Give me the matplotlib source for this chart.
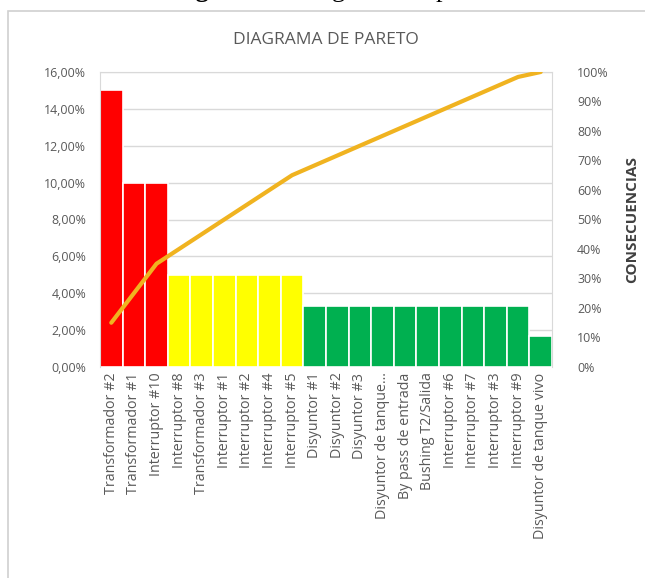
import numpy as np
import matplotlib
matplotlib.use('Agg')
import matplotlib.pyplot as plt
from matplotlib.patches import Rectangle
from matplotlib.ticker import FuncFormatter

plt.rcParams['font.family'] = ['Open Sans', 'DejaVu Sans']

# data
categorias = ['Transformador #2', 'Transformador #1', 'Interruptor #10', 'Interruptor #8',
              'Transformador #3', 'Interruptor #1', 'Interruptor #2', 'Interruptor #4',
              'Interruptor #5', 'Disyuntor #1', 'Disyuntor #2', 'Disyuntor #3',
              'Disyuntor de tanque...', 'By pass de entrada', 'Bushing T2/Salida',
              'Interruptor #6', 'Interruptor #7', 'Interruptor #3', 'Interruptor #9',
              'Disyuntor de tanque vivo']
valores = [15.0, 10.0, 10.0, 5.0, 5.0, 5.0, 5.0, 5.0, 5.0,
           3.33, 3.33, 3.33, 3.33, 3.33, 3.33, 3.33, 3.33, 3.33, 3.33, 1.67]
colores = ['#FF0000'] * 3 + ['#FFFF00'] * 6 + ['#00B050'] * 11

valores = np.array(valores) / 100
acumulado = np.cumsum(valores) / valores.sum()
x = np.arange(len(categorias))

gris = '#595959'
fig = plt.figure(figsize=(6.45, 5.78), dpi=100)

# frame around the chart + caption of the document, cut by the top edge
fig.patches.append(Rectangle((8 / 645, -0.01), 1.0, 1 - 11 / 578 + 0.01,
                             transform=fig.transFigure, fill=False,
                             edgecolor='#D0D0D0', linewidth=1.2))
fig.text(288 / 645, 1 + 2.5 / 578, 'Figura 16.', ha='right', va='baseline',
         fontsize=19, family='Liberation Serif', fontweight='bold', color='black')
fig.text(294 / 645, 1 + 2.5 / 578, 'Diagrama de pareto', ha='left', va='baseline',
         fontsize=19, family='Liberation Serif', color='black')

ax = fig.add_axes([100 / 645, 1 - 367 / 578, 452 / 645, 295 / 578])
ax.bar(x, valores, width=1.0, color=colores, edgecolor='white', linewidth=1.2, zorder=2)
ax.set_xlim(-0.5, len(categorias) - 0.5)
ax.set_ylim(0, 0.16)
ax.set_yticks(np.arange(0, 0.161, 0.02))
ax.yaxis.set_major_formatter(FuncFormatter(lambda v, p: f'{v * 100:.2f}%'.replace('.', ',')))
ax.grid(axis='y', color='#D9D9D9', linewidth=1, zorder=0)
ax.set_xticks(x)
ax.set_xticklabels(categorias, rotation=90, fontsize=10.3, color='#666666')
ax.tick_params(length=0, colors=gris)
ax.tick_params(axis='y', labelsize=8.9, pad=10)
ax.tick_params(axis='x', pad=4)
for s in ax.spines.values():
    s.set_color('#D9D9D9')
ax.spines['bottom'].set_visible(False)

ax2 = ax.twinx()
ax2.plot(x, acumulado, color='#F0B320', linewidth=3, solid_capstyle='round', zorder=3)
ax2.set_ylim(0, 1)
ax2.set_yticks(np.arange(0, 1.01, 0.1))
ax2.yaxis.set_major_formatter(FuncFormatter(lambda v, p: f'{v * 100:.0f}%'))
ax2.tick_params(length=0, labelsize=8.9, colors=gris, pad=18)
for s in ax2.spines.values():
    s.set_visible(False)
ax2.set_ylabel('CONSECUENCIAS', fontsize=11, fontweight='bold', color='#404040', labelpad=12)

fig.text(0.506, 1 - 40 / 578, 'DIAGRAMA DE PARETO', ha='center', va='center',
         fontsize=12.5, color=gris)

fig.savefig('out.png', dpi=100)
